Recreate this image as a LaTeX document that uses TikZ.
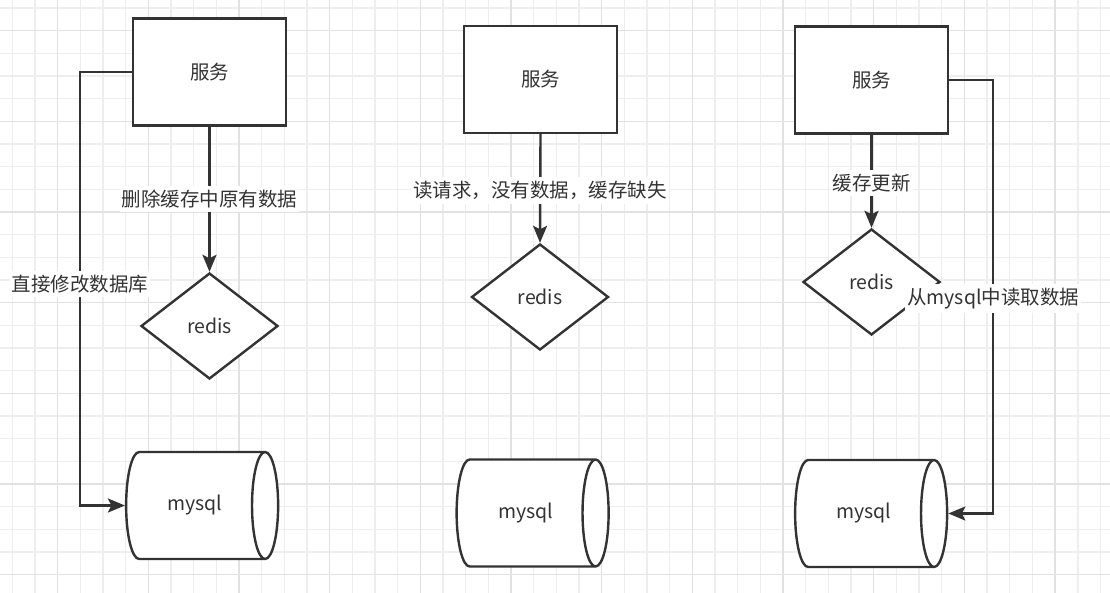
\documentclass[tikz,border=0pt]{standalone}
\usepackage{fontspec}
\setmainfont{Noto Sans CJK SC}
\usetikzlibrary{shapes.geometric,arrows.meta}
\definecolor{ink}{RGB}{51,51,51}
\definecolor{gridminor}{RGB}{238,238,238}
\definecolor{gridmajor}{RGB}{226,226,226}
\tikzset{
  box/.style={draw=ink,line width=2.4,fill=white,minimum width=153,minimum height=107,inner sep=0},
  decision/.style={diamond,draw=ink,line width=2.4,fill=white,minimum width=137,minimum height=106,inner sep=0},
  store/.style={cylinder,draw=ink,line width=2.4,fill=white,aspect=1.3,minimum width=107,minimum height=152,inner sep=0},
  line/.style={draw=ink,line width=2.4,-{Stealth[length=17,width=14,inset=3.5]}},
  lbl/.style={fill=white,inner xsep=2,inner ysep=4}
}
\begin{document}
\begin{tikzpicture}[x=1pt,y=-1pt,font=\fontsize{19.5}{23}\selectfont,text=ink]
  \useasboundingbox (0,0) rectangle (1110,593);
  \fill[white] (0,0) rectangle (1110,593);
  % 背景网格
  \foreach \k in {0,...,48}
    \draw[gridminor,line width=1.4] ({12.3+22.67*\k},0) -- ({12.3+22.67*\k},593);
  \foreach \k in {0,...,25}
    \draw[gridminor,line width=1.4] (0,{7.9+22.67*\k}) -- (1110,{7.9+22.67*\k});
  \foreach \k in {2,6,...,46}
    \draw[gridmajor,line width=1.4] ({12.3+22.67*\k},0) -- ({12.3+22.67*\k},593);
  \foreach \k in {1,5,...,25}
    \draw[gridmajor,line width=1.4] (0,{7.9+22.67*\k}) -- (1110,{7.9+22.67*\k});

  \node[box] (svc1) at (209.5,72) {服务};
  \node[box] (svc2) at (540.5,79.5) {服务};
  \node[box] (svc3) at (871.5,80) {服务};

  \node[decision] (redis1) at (209.5,326) {redis};
  \node[decision] (redis2) at (540,297) {redis};
  \node[decision] (redis3) at (871.5,282) {redis};

  \node[store] (db1) at (195,505.5) {mysql};
  \node[store] (db2) at (525.5,513) {mysql};
  \node[store] (db3) at (864,513.5) {mysql};

  % 第一种：更新
  \draw[line] (svc1.south) -- (redis1.north) node[lbl,midway] (l1) {删除缓存中原有数据};
  \draw[line] (svc1.west) -- ++(-52,0) coordinate (k1) -- (k1 |- db1.west)
    node[lbl,pos=0.49] (l2) {直接修改数据库} -- (db1.west);
  % 第二种：读
  \draw[line] (svc2.south) -- (redis2.north) node[lbl,pos=0.52] (l3) {读请求，没有数据，缓存缺失};
  % 第三种：回写
  \draw[line] (svc3.south) -- (redis3.north) node[lbl,pos=0.52] (l4) {缓存更新};
  \draw[line] (svc3.east) -- ++(44,0) coordinate (k3) -- (k3 |- db3.east)
    node[lbl,pos=0.505] (l5) {从mysql中读取数据} -- (db3.east);
\end{tikzpicture}
\end{document}
